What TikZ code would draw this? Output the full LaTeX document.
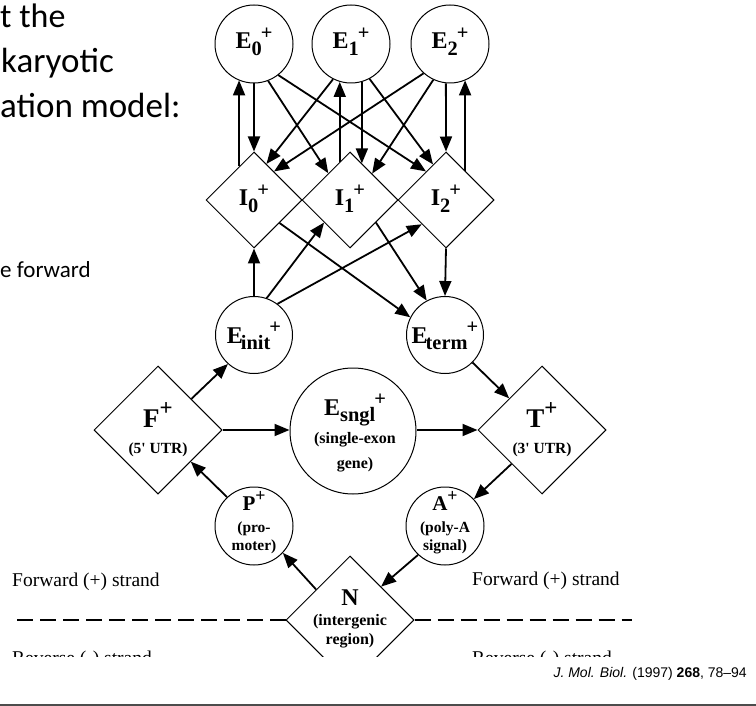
\documentclass[tikz,border=0pt]{standalone}
\usepackage{fontspec}
\setmainfont{Liberation Serif}
\newfontfamily\slidefont{Carlito}
\newfontfamily\citefont{Liberation Sans}
\usetikzlibrary{shapes.geometric,arrows.meta}
\newcommand\fs[1]{\fontsize{#1}{#1}\selectfont}
\newcommand\lab[3]{#1\raisebox{-0.28em}{\scalebox{0.85}{#2}}\kern-0.04em\raisebox{0.4em}{\scalebox{0.85}{#3}}}
\newcommand\sups[1]{\raisebox{0.42em}{\scalebox{0.85}{#1}}}
\begin{document}
\begin{tikzpicture}[x=1pt,y=-1pt,
  circ/.style={circle,draw,line width=1pt,minimum size=#1,inner sep=0pt},
  circ/.default=78pt,
  dia/.style={diamond,draw,line width=1pt,minimum width=#1,minimum height=#1,inner sep=0pt},
  dia/.default=96pt,
  arr/.style={-{Triangle[length=15pt,width=12pt]},line width=1.8pt},
  lb/.style={inner sep=0pt,anchor=base,font=\bfseries\fs{#1}},
  strandtxt/.style={inner sep=0pt,anchor=base west,font=\fs{19.5}},
  strandline/.style={line width=1.5pt,dash pattern=on 16pt off 7pt},
  slide/.style={inner sep=0pt,anchor=base west,font=\slidefont\fs{#1}}]
\useasboundingbox (0,0) rectangle (756,706);

% slide text (cropped at the left edge)
\node[slide=34] (s1) at (0,28) {t the};
\node[slide=35] (s2) at (1,73) {karyotic};
\node[slide=35] (s3) at (0,118) {ation model:};
\node[slide=23] (s4) at (0,278) {e forward};

\begin{scope}
\clip (0,0) rectangle (756,656);
% shapes
\node[circ] (E0) at (254,44) {};
\node[circ] (E1) at (351,44) {};
\node[circ] (E2) at (450,44) {};
\node[dia] (I0) at (254,200) {};
\node[dia] (I1) at (350,200) {};
\node[dia] (I2) at (446,200) {};
\node[circ=77pt] (Ei) at (254,335) {};
\node[circ=77pt] (Et) at (445,335) {};
\node[dia=128pt] (F) at (158,430) {};
\node[circ=126pt] (Es) at (353,431) {};
\node[dia=128pt] (T) at (542,430) {};
\node[circ] (P) at (254,526) {};
\node[circ] (A) at (445,526) {};
\node[dia=128pt] (N) at (350,620) {};

% labels
\node[lb=24] (E0t) at (254,49) {\lab{E}{0}{+}};
\node[lb=24] (E1t) at (351,49) {\lab{E}{1}{+}};
\node[lb=24] (E2t) at (450,49) {\lab{E}{2}{+}};
\node[lb=24] (I0t) at (254,206) {\lab{I}{0}{+}};
\node[lb=24] (I1t) at (350,206) {\lab{I}{1}{+}};
\node[lb=24] (I2t) at (446,206) {\lab{I}{2}{+}};
\node[lb=24] (Eit) at (254,343) {\lab{E}{\kern-0.1em init}{+}};
\node[lb=24] (Ett) at (445,343) {\lab{E}{\kern-0.1em term}{+}};
\node[lb=24] (Es1) at (355,415) {\lab{E}{sngl}{+}};
\node[lb=16] (Es2) at (355,443) {(single-exon};
\node[lb=16] (Es3) at (355,468) {gene)};
\node[lb=27] (F1) at (158,427) {F\sups{+}};
\node[lb=15.5] (F2) at (158,453) {(5\textquotesingle{} UTR)};
\node[lb=27] (T1) at (542,427) {T\sups{+}};
\node[lb=15.5] (T2) at (542,453) {(3\textquotesingle{} UTR)};
\node[lb=21] (P1) at (254,510) {P\sups{+}};
\node[lb=15.5] (P2) at (254,532) {(pro-};
\node[lb=15.5] (P3) at (254,550) {moter)};
\node[lb=21] (A1) at (445,510) {A\sups{+}};
\node[lb=15.5] (A2) at (445,532) {(poly-A};
\node[lb=15.5] (A3) at (445,550) {signal)};
\node[lb=24] (N1) at (350,605) {N};
\node[lb=16] (N2) at (350,625) {(intergenic};
\node[lb=16] (N3) at (350,644) {region)};

% strand texts and separator
\node[strandtxt] (fl) at (12,586) {Forward (+) strand};
\node[strandtxt] (fr) at (472,585) {Forward (+) strand};
\node[strandtxt] (rl) at (12,664) {Reverse (-) strand};
\node[strandtxt] (rr) at (472,664) {Reverse (-) strand};
\coordinate (DL) at (12,620);
\coordinate (DR) at (632,620);
\draw[strandline] (N.west) -- (DL);
\draw[strandline] (N.east) -- (DR);

% exon <-> intron connectors
\draw[arr] (E0.south) -- (I0.north);
\draw[arr] (I0.114) -- (E0.247 -| I0.114);
\draw[arr] (E0.291) -- (I1.129);
\draw[arr] (E0.308) -- (I2.125);
\draw[arr] (E1.243) -- (I0.71);
\draw[arr] (E1.298) -- (I2.110);
\draw[arr] (I1.105) -- (E1.254 -| I1.105);
\draw[arr] (E1.286) -- (E1.286 |- I1.72);
\draw[arr] (E2.228) -- (I0.55);
\draw[arr] (E2.245) -- (I1.50);
\draw[arr] (E2.264) -- (I2.north);
\draw[arr] (I2.57) -- (E2.293 -| I2.57);

\draw[arr] (I0.318) -- (Et.153);
\draw[arr] (I1.319) -- (Et.118);
\draw[arr] (I2.south) -- (Et.north);
\draw[arr] (Ei.north) -- (I0.south);
\draw[arr] (Ei.71) -- (I1.221);
\draw[arr] (Ei.53) -- (I2.225);

\draw[arr] (F.43) -- (Ei.228);
\draw[arr] (Et.315) -- (T.136);
\draw[arr] (F.east) -- (F.east -| Es.west);
\draw[arr] (T.west -| Es.east) -- (T.west);
\draw[arr] (T.228) -- (A.43);
\draw[arr] (A.227) -- (N.47);
\draw[arr] (N.138) -- (P.317);
\draw[arr] (P.133) -- (F.316);
\end{scope}

% citation and rule
\node[inner sep=0pt,anchor=base east,font=\citefont\fs{14}] (cite) at (747,677) {\textit{J. Mol. Biol.} (1997) \textbf{268}, 78–94};
\draw[line width=1.5pt,black!70] (0,705) -- (756,705);
\end{tikzpicture}
\end{document}
